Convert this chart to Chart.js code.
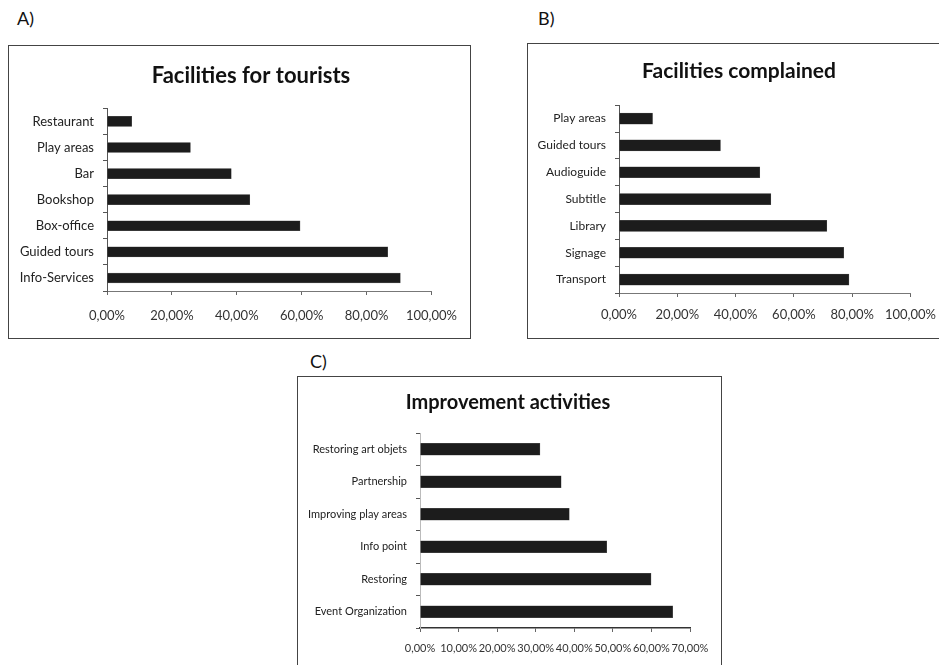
<!DOCTYPE html>
<html>
<head>
<meta charset="utf-8">
<script src="https://cdn.jsdelivr.net/npm/chart.js@4/dist/chart.umd.min.js"></script>
<style>
html, body { margin: 0; padding: 0; width: 939px; height: 665px; overflow: hidden; background: #fff; font-family: Lato, sans-serif; }
.tag { position: absolute; font-size: 18px; color: #111; line-height: 20px; }
.box { position: absolute; border: 1px solid #444; box-sizing: border-box; }
.box canvas { position: absolute; left: 0; top: 0; }
</style>
</head>
<body>
<div class="tag" style="left:17px; top:8px">A)</div>
<div class="tag" style="left:538px; top:8px">B)</div>
<div class="tag" style="left:310px; top:351px">C)</div>

<div class="box" style="left:8px; top:45px; width:463px; height:294px"><canvas id="chartA" width="461" height="292"></canvas></div>
<div class="box" style="left:527px; top:43px; width:420px; height:296px"><canvas id="chartB" width="418" height="294"></canvas></div>
<div class="box" style="left:297px; top:376px; width:425px; height:300px"><canvas id="chartC" width="423" height="298"></canvas></div>

<script>
// 数据 A: Facilities for tourists
const titleA = "Facilities for tourists";
const labelsA = ["Restaurant", "Play areas", "Bar", "Bookshop", "Box-office", "Guided tours", "Info-Services"];
const valuesA = [7.6, 25.7, 38.3, 44.0, 59.5, 86.5, 90.4];

// 数据 B: Facilities complained
const titleB = "Facilities complained";
const labelsB = ["Play areas", "Guided tours", "Audioguide", "Subtitle", "Library", "Signage", "Transport"];
const valuesB = [11.5, 34.8, 48.3, 52.1, 71.3, 77.1, 78.9];

// 数据 C: Improvement activities
const titleC = "Improvement activities";
const labelsC = ["Restoring art objets", "Partnership", "Improving play areas", "Info point", "Restoring", "Event Organization"];
const valuesC = [31.1, 36.6, 38.7, 48.4, 59.9, 65.5];

Chart.defaults.font.family = "Lato, 'Open Sans', sans-serif";
Chart.defaults.color = "#2a2a2a";

// 百分比格式 0,00%
const pct = (v) => Number(v).toFixed(2).replace(".", ",") + "%";

// 标题水平位置：布局完成后把标题框移到指定中心
const titleShift = {
    id: "titleShift",
    afterLayout(chart, args, opts) {
        const t = chart.titleBlock;
        if (!t || opts.cx == null) return;
        const w = t.right - t.left;
        t.left = opts.cx - w / 2;
        t.right = opts.cx + w / 2;
    }
};

function makeChart(id, title, labels, values, o) {
    return new Chart(document.getElementById(id).getContext("2d"), {
        type: "bar",
        plugins: [titleShift],
        data: {
            labels: labels,
            datasets: [{
                data: values,
                backgroundColor: "#1c1c1c",
                borderColor: "#555",
                borderWidth: 0.5,
                barThickness: o.bar
            }]
        },
        options: {
            indexAxis: "y",
            responsive: false,
            animation: false,
            layout: { padding: { left: 0, right: o.padRight, top: 0, bottom: 0 } },
            plugins: {
                legend: { display: false },
                tooltip: { enabled: false },
                titleShift: { cx: o.titleX },
                title: {
                    display: true,
                    text: title,
                    color: "#111",
                    font: { size: o.titleSize, weight: "bold" },
                    padding: { top: o.titleTop, bottom: o.titleBottom }
                }
            },
            scales: {
                x: {
                    min: 0,
                    max: o.max,
                    ticks: { stepSize: o.step, callback: pct, font: { size: o.xFont }, padding: o.xPad, maxRotation: 0, autoSkip: false, color: "#333" },
                    grid: { drawOnChartArea: false, drawTicks: true, tickLength: 4, color: "#666" },
                    border: { color: o.xBorder, width: o.xBorderW },
                    afterFit: (s) => { s.height = o.xHeight; }
                },
                y: {
                    ticks: { font: { size: o.yFont }, padding: 9, color: "#222" },
                    grid: { drawOnChartArea: false, drawTicks: true, tickLength: 4, color: "#555" },
                    border: { color: o.yBorder },
                    afterFit: (s) => { s.width = o.yWidth; }
                }
            }
        }
    });
}

makeChart("chartA", titleA, labelsA, valuesA, {
    max: 100, step: 20, yWidth: 98, padRight: 38, titleSize: 22, titleTop: 17, titleBottom: 19, titleX: 242,
    xHeight: 47, xPad: 13, xFont: 13, yFont: 13, bar: 10, yBorder: "#555", xBorder: "#777", xBorderW: 1
});
makeChart("chartB", titleB, labelsB, valuesB, {
    max: 100, step: 20, yWidth: 91, padRight: 29, titleSize: 21, titleTop: 15, titleBottom: 21, titleX: 211,
    xHeight: 45, xPad: 10, xFont: 13, yFont: 12, bar: 11, yBorder: "#555", xBorder: "#777", xBorderW: 1
});
makeChart("chartC", titleC, labelsC, valuesC, {
    max: 70, step: 10, yWidth: 122, padRight: 31, titleSize: 20, titleTop: 14, titleBottom: 18, titleX: 210,
    xHeight: 47, xPad: 10, xFont: 11, yFont: 11, bar: 12, yBorder: "#bbb", xBorder: "#333", xBorderW: 1.5
});
</script>
</body>
</html>
